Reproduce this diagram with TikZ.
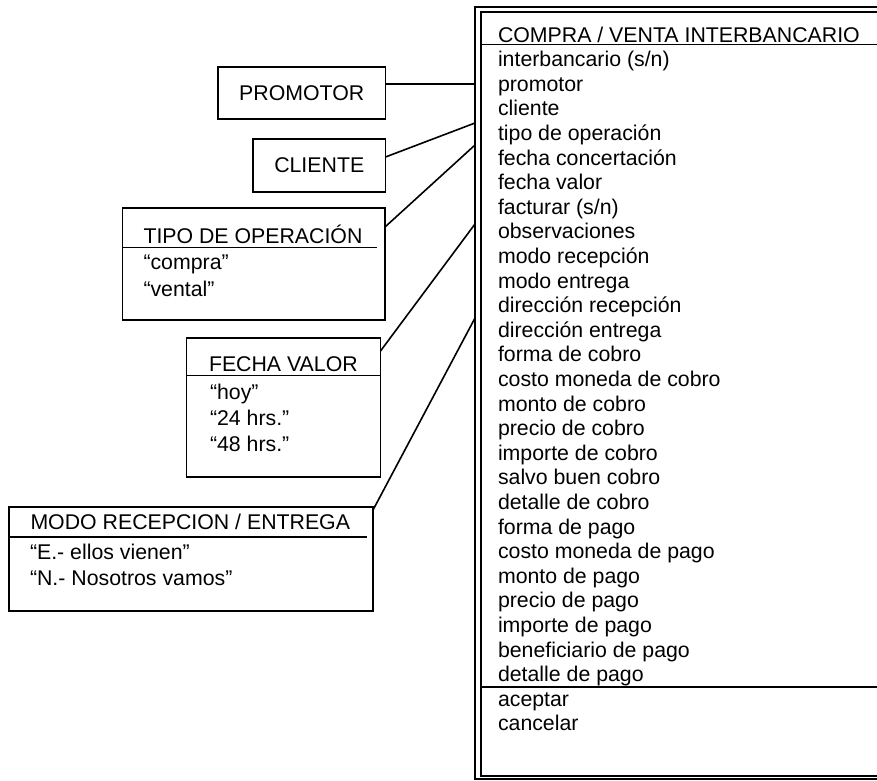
\documentclass[tikz,border=0pt]{standalone}
\usepackage{fontspec}
\setmainfont{Liberation Sans}
\begin{document}
\begin{tikzpicture}[x=1pt,y=-1pt,
  every node/.style={inner sep=0pt, outer sep=0pt, font=\fontsize{21.3}{24.6}\selectfont},
  frame/.style={draw, line width=1.8pt},
  link/.style={draw, line width=1.6pt},
  item/.style={anchor=base west},
  boxnode/.style={frame, anchor=north west, minimum width=#1},
]
\useasboundingbox (0,0) rectangle (877,780);
\clip (0,0) rectangle (877,780);

% main form: double frame, header rule and button rule
\draw[frame] (475,7) rectangle (900,779);
\draw[frame] (481,12) rectangle (900,776);
\draw[frame] (481,44.5) -- (900,44.5);
\draw[frame] (481,687) -- (900,687);

\node[item] (mainHead) at (498,42) {COMPRA / VENTA INTERBANCARIO};
\foreach \t [count=\i from 0] in {interbancario (s/n), promotor, cliente,
  tipo de operación, fecha concertación, fecha valor, facturar (s/n),
  observaciones, modo recepción, modo entrega, dirección recepción,
  dirección entrega, forma de cobro, costo moneda de cobro, monto de cobro,
  precio de cobro, importe de cobro, salvo buen cobro, detalle de cobro,
  forma de pago, costo moneda de pago, monto de pago, precio de pago,
  importe de pago, beneficiario de pago, detalle de pago}
  \node[item] (row\i) at (498,66.6+24.6*\i) {\t};
\node[item] (btnOk) at (498,706) {aceptar};
\node[item] (btnCancel) at (498,730.6) {cancelar};

% simple lookup boxes
\node[boxnode=167.5, minimum height=52] (promotor) at (218,67) {PROMOTOR};
\node[boxnode=132.5, minimum height=53] (cliente) at (253,139) {CLIENTE};

% TIPO DE OPERACION
\node[boxnode=262.5, minimum height=112] (tipo) at (122.5,208) {};
\node[item] (tipoHead) at (143.5,243.6) {TIPO DE OPERACIÓN};
\draw[frame] (122.5,247.5) -- (377,247.5);
\node[item] (tipoA) at (143.5,269.5) {“compra”};
\node[item] (tipoB) at (143.5,296) {“vental”};

% FECHA VALOR
\node[boxnode=194, minimum height=139] (fecha) at (186.5,338) {};
\node[item] (fechaHead) at (209,371) {FECHA VALOR};
\draw[frame] (186.5,375.5) -- (380.5,375.5);
\node[item] (fechaA) at (210,399.5) {“hoy”};
\node[item] (fechaB) at (210,425.5) {“24 hrs.”};
\node[item] (fechaC) at (210,451.5) {“48 hrs.”};

% MODO RECEPCION / ENTREGA
\node[boxnode=364, minimum height=104] (modo) at (9,507) {};
\node[item] (modoHead) at (30.5,529.6) {MODO RECEPCION / ENTREGA};
\draw[frame] (9,536.7) -- (367,536.7);
\node[item] (modoA) at (30,559) {“E.- ellos vienen”};
\node[item] (modoB) at (30,585) {“N.- Nosotros vamos”};

% attachment points on the form's left edge
\coordinate (endP) at (475,84);
\coordinate (endC) at (475,123);
\coordinate (endT) at (475,145);
\coordinate (endF) at (475,224);
\coordinate (endM) at (475,318);

\draw[link] (promotor.east |- endP) -- (endP);
\draw[link] ([yshift=-18pt]cliente.north east) -- (endC);
\draw[link] ([yshift=-19pt]tipo.north east) -- (endT);
\draw[link] ([yshift=-13pt]fecha.north east) -- (endF);
\draw[link] ([yshift=-3pt]modo.north east) -- (endM);
\end{tikzpicture}
\end{document}
